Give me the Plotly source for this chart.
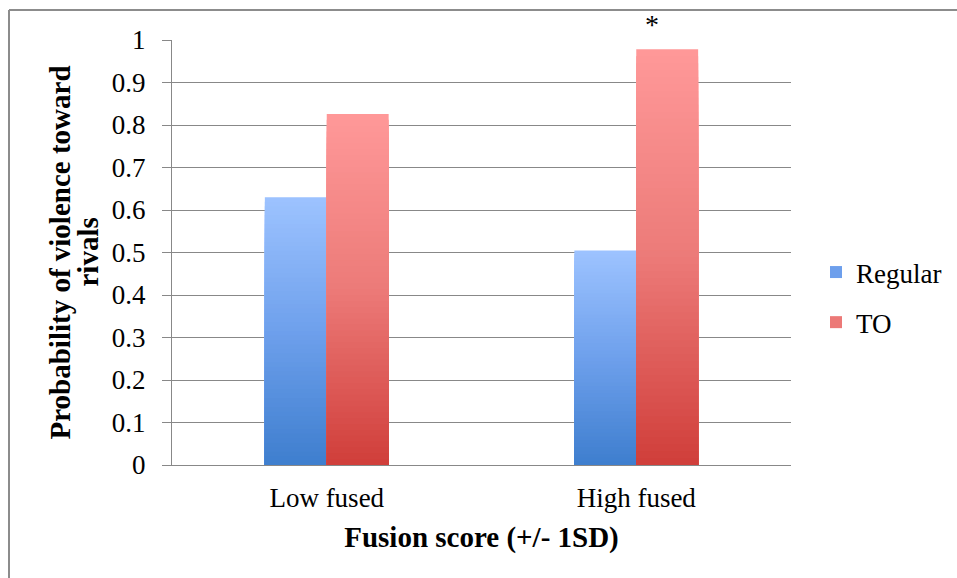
import plotly.graph_objects as go

# Data
categories = ["Low fused", "High fused"]
regular_vals = [0.63, 0.505]
to_vals = [0.826, 0.978]
series_names = ["Regular", "TO"]
y_tick_vals = [0, 0.1, 0.2, 0.3, 0.4, 0.5, 0.6, 0.7, 0.8, 0.9, 1]
y_tick_text = ["0", "0.1", "0.2", "0.3", "0.4", "0.5", "0.6", "0.7", "0.8", "0.9", "1"]
y_title_lines = ["Probability of violence toward", "rivals"]
x_title = "Fusion score (+/- 1SD)"

# Page geometry
W, H = 957, 578
ML, MR, MT, MB = 172, 166, 40, 113
PW, PH = W - ML - MR, H - MT - MB


def px_x(px):
    return (px - ML) / PW


def px_y(py):
    return (H - MB - py) / PH


# Vertical gradients (fraction 0 = bar bottom, 1 = bar top)
grad_regular = [(0.0, (62, 126, 206)), (0.5, (110, 160, 236)), (1.0, (157, 195, 255))]
grad_to = [(0.0, (208, 62, 58)), (0.5, (236, 122, 120)), (1.0, (255, 153, 153))]


def grad_color(stops, f):
    for (f0, c0), (f1, c1) in zip(stops[:-1], stops[1:]):
        if f0 <= f <= f1:
            t = (f - f0) / (f1 - f0)
            c = [round(a + (b - a) * t) for a, b in zip(c0, c1)]
            return "rgb({},{},{})".format(*c)
    return "rgb({},{},{})".format(*stops[-1][1])


FONT = "Liberation Serif, Tinos, DejaVu Serif, serif"
N = 60  # gradient bands per bar

fig = go.Figure()

for name, vals, stops in [(series_names[0], regular_vals, grad_regular),
                          (series_names[1], to_vals, grad_to)]:
    # tallest band first, each shorter band painted over the lower part
    for k in range(N):
        frac_top = (N - k) / N
        heights = [v * frac_top for v in vals]
        color = grad_color(stops, (N - k - 0.5) / N)
        fig.add_trace(go.Bar(
            x=categories, y=heights, offsetgroup=name,
            name=name, legendgroup=name,
            showlegend=(k == N // 2),
            marker=dict(color=color, line=dict(width=0)),
            hoverinfo="skip",
        ))

# significance marker above the High fused TO bar
fig.add_annotation(x=categories[1], y=px_y(7), xref="x", yref="paper",
                   text="*", showarrow=False, xshift=16,
                   font=dict(family=FONT, size=28, color="black"))

# rotated two-line y-axis title
for text, cx in zip(y_title_lines, [59, 87]):
    fig.add_annotation(x=px_x(cx), y=0.5, xref="paper", yref="paper",
                       text="<b>" + text + "</b>", textangle=-90,
                       showarrow=False, xanchor="center", yanchor="middle",
                       font=dict(family=FONT, size=29, color="black"))

# outer chart frame (top and left edges)
frame = "#8c8c8c"
fig.add_shape(type="line", xref="paper", yref="paper",
              x0=px_x(9), x1=px_x(975), y0=px_y(10), y1=px_y(10),
              line=dict(color=frame, width=2))
fig.add_shape(type="line", xref="paper", yref="paper",
              x0=px_x(9), x1=px_x(9), y0=px_y(10), y1=px_y(600),
              line=dict(color=frame, width=2))

axis_col = "#888888"
fig.update_layout(
    width=W, height=H,
    margin=dict(l=ML, r=MR, t=MT, b=MB, autoexpand=False),
    paper_bgcolor="white", plot_bgcolor="white",
    barmode="group", bargap=0.6, bargroupgap=0,
    font=dict(family=FONT, size=27, color="black"),
    legend=dict(x=px_x(816), y=px_y(248), xanchor="left", yanchor="top",
                font=dict(family=FONT, size=27, color="black"), tracegroupgap=12,
                itemwidth=30, bgcolor="rgba(0,0,0,0)"),
    xaxis=dict(
        showline=True, linecolor=axis_col, linewidth=1.3,
        ticks="", showgrid=False, ticklabelstandoff=8,
        tickfont=dict(family=FONT, size=27, color="black"),
        title=dict(text="<b>" + x_title + "</b>",
                   font=dict(family=FONT, size=29, color="black"), standoff=15),
    ),
    yaxis=dict(
        range=[0, 1], tickvals=y_tick_vals, ticktext=y_tick_text,
        showline=True, linecolor=axis_col, linewidth=1.3,
        ticks="outside", ticklen=9, tickcolor=axis_col, tickwidth=1.3,
        showgrid=True, gridcolor=axis_col, gridwidth=1.3,
        zeroline=False, ticklabelstandoff=11,
        tickfont=dict(family=FONT, size=27, color="black"),
    ),
)

fig.write_html("out.html")
